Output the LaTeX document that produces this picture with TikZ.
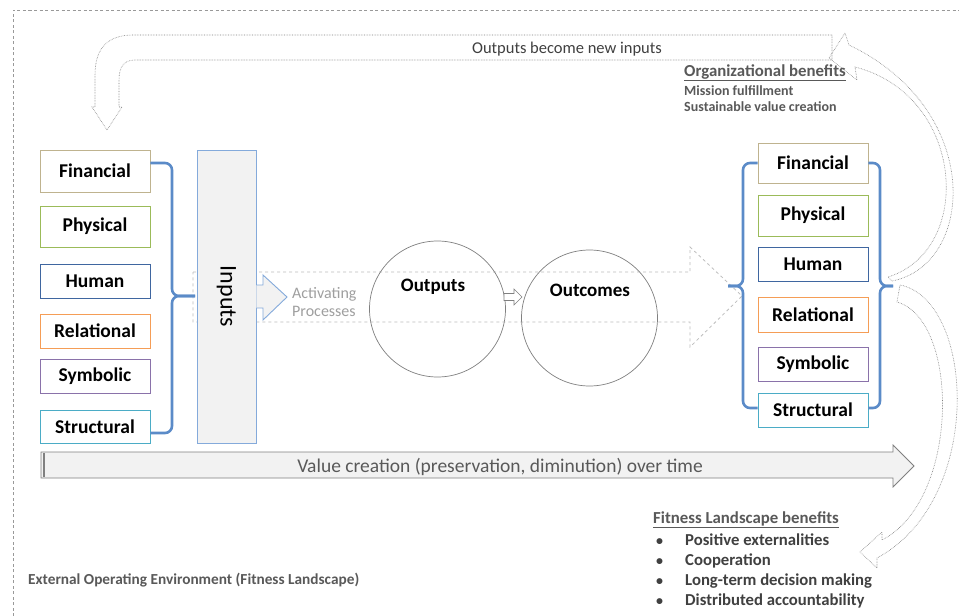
\documentclass[tikz,border=0pt]{standalone}
\usepackage{fontspec}
\setmainfont{Carlito}
\definecolor{fincol}{HTML}{BFB38F}
\definecolor{physcol}{HTML}{9BBB59}
\definecolor{humcol}{HTML}{3F66A0}
\definecolor{relcol}{HTML}{F59D56}
\definecolor{symcol}{HTML}{8A72AA}
\definecolor{strcol}{HTML}{4BACC6}
\definecolor{bracecol}{HTML}{5B8BC8}
\definecolor{inpborder}{HTML}{84AADB}
\definecolor{inpfill}{HTML}{F2F2F2}
\definecolor{textgray}{HTML}{595959}
\definecolor{darkgray}{HTML}{404040}
\definecolor{circcol}{HTML}{808080}
\definecolor{dashcol}{HTML}{BDBDBD}
\definecolor{dotcol}{HTML}{7F7F7F}
\tikzset{
  resbox/.style={draw, line width=0.9pt, fill=white, minimum width=110pt, inner sep=0pt,
    font=\fontsize{19.5}{21}\selectfont\bfseries, text=black},
  bracepath/.style={draw=bracecol, line width=2.6pt, rounded corners=7pt},
  dotarrow/.style={draw=dotcol, densely dotted, line width=0.6pt},
  anno/.style={anchor=base west, inner sep=0pt, text=textgray},
}
\begin{document}
\begin{tikzpicture}[x=1pt,y=-1pt]
\useasboundingbox (0,0) rectangle (959,616);
\fill[white] (0,0) rectangle (959,616);

% outer dashed environment border
\draw[gray!80, dash pattern=on 3pt off 2.5pt, line width=0.6pt] (13,616) -- (13,10) -- (959,10);

% feedback U arrow
\draw[dotarrow] (832,35) -- (133,35) .. controls (108,35) and (95,48) .. (95,75) -- (95,107) -- (92,107)
  -- (107,130) -- (122,107) -- (119,107) -- (119,80) .. controls (119,67) and (124,60) .. (135,60) -- (832,60) -- cycle;
\node[inner sep=0pt, text=darkgray, font=\fontsize{16.5}{18}\selectfont] (fbtext) at (567,49) {Outputs become new inputs};

% big dashed process arrow
\draw[dashcol, dashed, line width=0.8pt] (193,272) -- (690,272) -- (690,247) -- (742,296) -- (690,347) -- (690,322) -- (193,322) -- cycle;

% left boxes
\node[resbox, draw=fincol, minimum height=42pt] (finL) at (95,171) {Financial};
\node[resbox, draw=physcol, minimum height=41pt] (phyL) at (95,226.5) {Physical};
\node[resbox, draw=humcol, minimum height=34pt] (humL) at (95,281) {Human};
\node[resbox, draw=relcol, minimum height=34pt] (relL) at (95,331) {Relational};
\node[resbox, draw=symcol, minimum height=34pt] (symL) at (95,376) {Symbolic};
\node[resbox, draw=strcol, minimum height=33pt] (strL) at (95,426.5) {Structural};

% left brace
\coordinate (lbTip) at (195,296);
\path[bracepath] (finL.east |- 0,163) -- (172,163) -- (172,296) -- (lbTip);
\path[bracepath] (strL.east |- 0,433) -- (172,433) -- (172,296) -- (lbTip);

% inputs block
\node[draw=inpborder, fill=inpfill, line width=0.9pt, minimum width=59pt, minimum height=293pt, inner sep=0pt] (inputs) at (226.5,296.5) {};
\node[rotate=-90, inner sep=0pt, font=\fontsize{24}{26}\selectfont, text=black] (inputsTxt) at (inputs.center) {Inputs};
\draw[draw=inpborder, fill=inpfill, line width=0.9pt] (inputs.east |- 0,285) -- (263,285) -- (263,275) -- (287,297) -- (263,320) -- (263,308) -- (inputs.east |- 0,308);

\node[anchor=west, inner sep=0pt, text=gray!75, font=\fontsize{16}{18}\selectfont, align=left] (act) at (292,302) {Activating\\Processes};

% circles
\node[draw=circcol, circle, minimum size=136pt, inner sep=0pt, line width=0.7pt] (outC) at (437.5,309) {};
\node[draw=circcol, circle, minimum size=136pt, inner sep=0pt, line width=0.7pt] (ocC) at (589.5,318) {};
\node[inner sep=0pt, font=\fontsize{19}{21}\selectfont\bfseries] (outT) at (433,287) {Outputs};
\node[inner sep=0pt, font=\fontsize{19}{21}\selectfont\bfseries] (ocT) at (590,290) {Outcomes};
\draw[draw=circcol, fill=white, line width=0.6pt] (504,293.5) -- (514,293.5) -- (514,289) -- (522,297) -- (514,305) -- (514,300.5) -- (504,300.5) -- cycle;

% right boxes
\node[resbox, draw=fincol, minimum height=40pt] (finR) at (813,163) {Financial};
\node[resbox, draw=physcol, minimum height=41pt] (phyR) at (813,215.5) {Physical};
\node[resbox, draw=humcol, minimum height=34pt] (humR) at (813,264) {Human};
\node[resbox, draw=relcol, minimum height=35pt] (relR) at (813,314.5) {Relational};
\node[resbox, draw=symcol, minimum height=34pt] (symR) at (813,364) {Symbolic};
\node[resbox, draw=strcol, minimum height=34pt] (strR) at (813,410) {Structural};

\coordinate (rlTip) at (728,286);
\coordinate (rrTip) at (893,286);
\path[bracepath] (finR.west |- 0,163) -- (743,163) -- (743,286) -- (rlTip);
\path[bracepath] (strR.west |- 0,408) -- (743,408) -- (743,286) -- (rlTip);
\path[bracepath] (finR.east |- 0,163) -- (880,163) -- (880,286) -- (rrTip);
\path[bracepath] (strR.east |- 0,408) -- (880,408) -- (880,286) -- (rrTip);

% value creation arrow
\draw[draw=gray, fill=inpfill, line width=0.8pt] (41,452) -- (893,452) -- (893,445) -- (914,466) -- (893,487) -- (893,478) -- (41,478) -- cycle;
\draw[gray, line width=1.2pt] (44,453) -- (44,477);
\node[inner sep=0pt, text=textgray, font=\fontsize{19.5}{21}\selectfont] (vc) at (500,467) {Value creation (preservation, diminution) over time};

% curved arrows on the right
\draw[dotarrow] (892,281) .. controls (975,265) and (985,110) .. (849,45) -- (845,33) -- (829,58) -- (857,80) -- (855,67)
  .. controls (965,95) and (975,250) .. (888,277) -- cycle;
\draw[dotarrow] (900,285) .. controls (975,300) and (985,500) .. (877,558) -- (877,568) -- (860,552) -- (882,532) -- (882,540)
  .. controls (960,500) and (960,320) .. (897,302) -- cycle;

% organizational benefits
\node[anno, font=\fontsize{16.8}{18}\selectfont\bfseries] (orgH) at (684,76) {\underline{Organizational benefits}};
\node[anno, font=\fontsize{14}{16}\selectfont\bfseries] (org1) at (684,95) {Mission fulfillment};
\node[anno, font=\fontsize{14}{16}\selectfont\bfseries] (org2) at (684,111) {Sustainable value creation};

% fitness landscape benefits
\node[anno, font=\fontsize{16.8}{18}\selectfont\bfseries] (fitH) at (653,523) {\underline{Fitness Landscape benefits}};
\foreach \yy/\tt/\nm in {545/Positive externalities/f1, 565/Cooperation/f2, 585/Long-term decision making/f3, 605/Distributed accountability/f4}{
  \node[anno, text=darkgray, font=\fontsize{14}{16}\selectfont\bfseries] (\nm b) at (656,\yy) {•};
  \node[anno, text=darkgray, font=\fontsize{16.7}{18}\selectfont\bfseries] (\nm) at (685,\yy) {\tt};
}

\node[anno, font=\fontsize{15.3}{17}\selectfont\bfseries] (ext) at (28,584) {External Operating Environment (Fitness Landscape)};
\end{tikzpicture}
\end{document}
